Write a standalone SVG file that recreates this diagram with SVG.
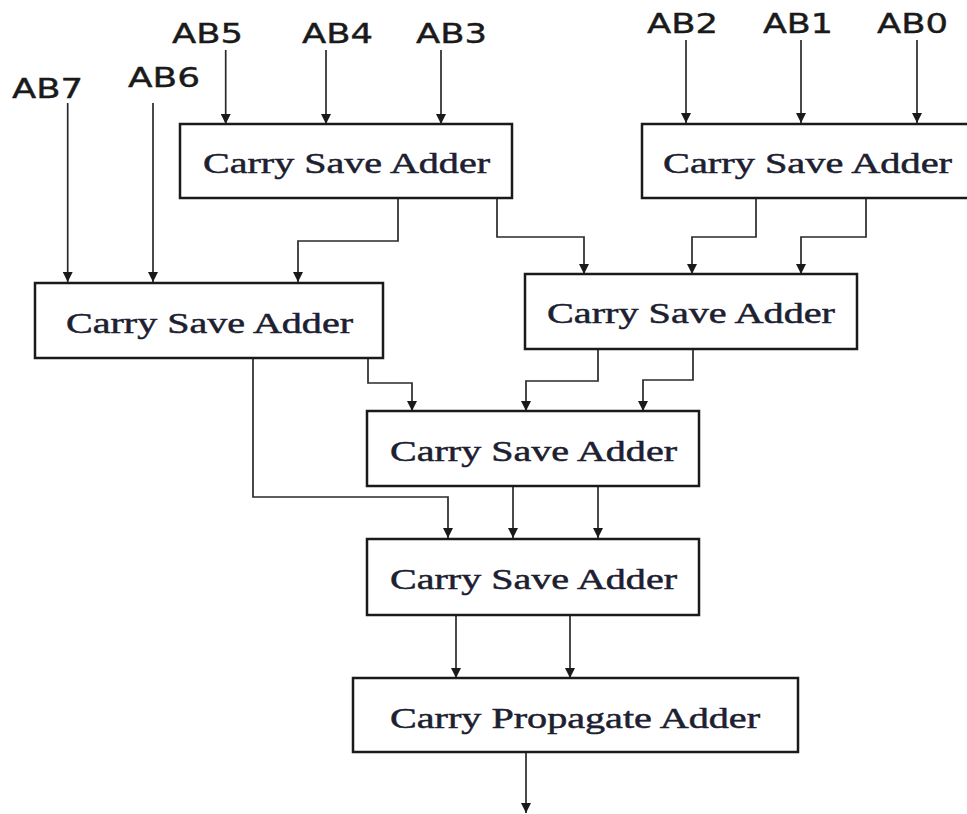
<svg xmlns="http://www.w3.org/2000/svg" width="967" height="814" viewBox="0 0 967 814">
<style>
.box{fill:#fff;stroke:#1a1a1a;stroke-width:2.5}
.lbl{font-family:"DejaVu Sans",Verdana,sans-serif;font-size:26px;fill:#1a1a1a;stroke:#1a1a1a;stroke-width:0.4}
.bt{font-family:"Liberation Serif","Times New Roman",serif;font-size:30px;fill:#1c2030;stroke:#1c2030;stroke-width:0.5}
.wire{fill:none;stroke:#2a2a2a;stroke-width:1.7;marker-end:url(#ah)}
</style>
<defs>
<marker id="ah" markerUnits="userSpaceOnUse" markerWidth="12" markerHeight="10" refX="10" refY="5" orient="auto">
<path d="M0,0 L10,5 L0,10 z" fill="#1a1a1a"/>
</marker>
</defs>
<rect width="967" height="814" fill="#fff"/>
<g id="inputs">
<text class="lbl" x="12" y="98" textLength="71" lengthAdjust="spacingAndGlyphs">AB7</text>
<text class="lbl" x="128" y="87" textLength="72" lengthAdjust="spacingAndGlyphs">AB6</text>
<text class="lbl" x="172" y="43" textLength="71" lengthAdjust="spacingAndGlyphs">AB5</text>
<text class="lbl" x="302" y="43" textLength="71" lengthAdjust="spacingAndGlyphs">AB4</text>
<text class="lbl" x="416" y="43" textLength="71" lengthAdjust="spacingAndGlyphs">AB3</text>
<text class="lbl" x="647" y="33" textLength="71" lengthAdjust="spacingAndGlyphs">AB2</text>
<text class="lbl" x="763" y="33" textLength="70" lengthAdjust="spacingAndGlyphs">AB1</text>
<text class="lbl" x="877" y="33" textLength="71" lengthAdjust="spacingAndGlyphs">AB0</text>
</g>
<g id="connectors">
<path class="wire" d="M67.7,103 V282"/>
<path class="wire" d="M153,103 V282"/>
<path class="wire" d="M225.7,50 V124"/>
<path class="wire" d="M326,50 V124"/>
<path class="wire" d="M441,50 V124"/>
<path class="wire" d="M686,40 V123"/>
<path class="wire" d="M801,40 V123"/>
<path class="wire" d="M917,40 V123"/>
<path class="wire" d="M398,198 V241 H298 V282"/>
<path class="wire" d="M497,198 V237 H584 V274"/>
<path class="wire" d="M756,198 V237 H692 V274"/>
<path class="wire" d="M866,198 V237 H801 V274"/>
<path class="wire" d="M253,358 V497 H448 V538"/>
<path class="wire" d="M368,358 V383 H412 V411"/>
<path class="wire" d="M598,349 V381 H526 V411"/>
<path class="wire" d="M693,349 V380 H643 V411"/>
<path class="wire" d="M513,486 V538"/>
<path class="wire" d="M598,486 V538"/>
<path class="wire" d="M456,615 V678"/>
<path class="wire" d="M570,615 V678"/>
<path class="wire" d="M526,752 V813"/>
</g>
<g id="csa1">
<rect class="box" x="180" y="124" width="332" height="74"/>
<text class="bt" x="203" y="173" textLength="287" lengthAdjust="spacingAndGlyphs">Carry Save Adder</text>
</g>
<g id="csa2">
<rect class="box" x="642" y="124" width="330" height="74"/>
<text class="bt" x="663" y="173" textLength="289" lengthAdjust="spacingAndGlyphs">Carry Save Adder</text>
</g>
<g id="csa3">
<rect class="box" x="35" y="283" width="348" height="75"/>
<text class="bt" x="66" y="333" textLength="287" lengthAdjust="spacingAndGlyphs">Carry Save Adder</text>
</g>
<g id="csa4">
<rect class="box" x="525" y="274" width="332" height="75"/>
<text class="bt" x="547" y="323" textLength="288" lengthAdjust="spacingAndGlyphs">Carry Save Adder</text>
</g>
<g id="csa5">
<rect class="box" x="367" y="411" width="332" height="75"/>
<text class="bt" x="390" y="461" textLength="287" lengthAdjust="spacingAndGlyphs">Carry Save Adder</text>
</g>
<g id="csa6">
<rect class="box" x="367" y="539" width="332" height="76"/>
<text class="bt" x="390" y="589" textLength="287" lengthAdjust="spacingAndGlyphs">Carry Save Adder</text>
</g>
<g id="cpa">
<rect class="box" x="353" y="678" width="445" height="74"/>
<text class="bt" x="390" y="728" textLength="370" lengthAdjust="spacingAndGlyphs">Carry Propagate Adder</text>
</g>
</svg>
